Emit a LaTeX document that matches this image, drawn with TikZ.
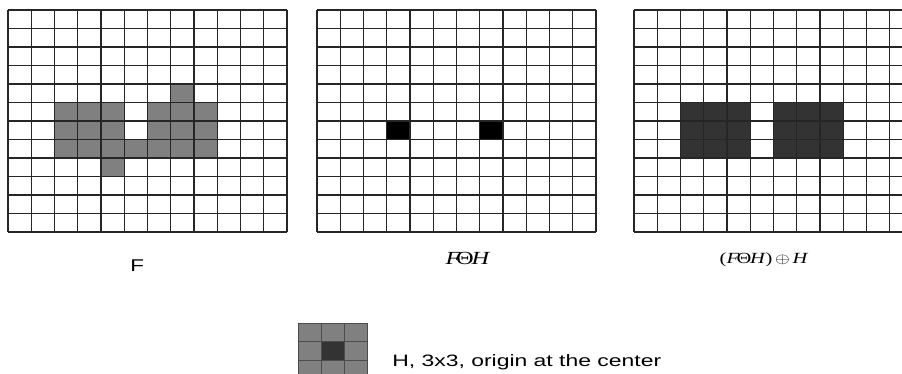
\documentclass[tikz,border=0pt]{standalone}
\usepackage{fontspec}
\setmainfont{Liberation Serif}
\newfontfamily\arialf{Liberation Sans}
\begin{document}
\begin{tikzpicture}[x=1pt,y=-1pt,
  gridline/.style={draw=black!85, line width=1.2pt},
  fcell/.style={fill=black!50},
  ecell/.style={fill=black},
  dcell/.style={fill=black!80},
  lab/.style={inner sep=0pt, xscale=1.32, transform shape}]
\useasboundingbox (0,0) rectangle (902,374);
\fill[white] (0,0) rectangle (902,374);
\clip (0,0) rectangle (902,374);
\def\cw{23.25}\def\ch{18.5}
% ---- grid 1 : F
\begin{scope}[shift={(8,10)}]
  \foreach \c/\r in {7/4,2/5,3/5,4/5,6/5,7/5,8/5,2/6,3/6,4/6,6/6,7/6,8/6,2/7,3/7,4/7,5/7,6/7,7/7,8/7,4/8}
    \fill[fcell] (\c*\cw,\r*\ch) rectangle ++(\cw,\ch);
  \foreach \i in {0,...,12} {
    \draw[gridline] (\i*\cw,0) -- (\i*\cw,12*\ch);
    \draw[gridline] (0,\i*\ch) -- (12*\cw,\i*\ch);
  }
\end{scope}
% ---- grid 2 : erosion
\begin{scope}[shift={(317,10)}]
  \foreach \c/\r in {3/6,7/6}
    \fill[ecell] (\c*\cw,\r*\ch) rectangle ++(\cw,\ch);
  \foreach \i in {0,...,12} {
    \draw[gridline] (\i*\cw,0) -- (\i*\cw,12*\ch);
    \draw[gridline] (0,\i*\ch) -- (12*\cw,\i*\ch);
  }
\end{scope}
% ---- grid 3 : opening
\begin{scope}[shift={(634,10)}]
  \foreach \c/\r in {2/5,3/5,4/5,6/5,7/5,8/5,2/6,3/6,4/6,6/6,7/6,8/6,2/7,3/7,4/7,6/7,7/7,8/7}
    \fill[dcell] (\c*\cw,\r*\ch) rectangle ++(\cw,\ch);
  \foreach \i in {0,...,12} {
    \draw[gridline] (\i*\cw,0) -- (\i*\cw,12*\ch);
    \draw[gridline] (0,\i*\ch) -- (12*\cw,\i*\ch);
  }
\end{scope}
% ---- structuring element H
\begin{scope}[shift={(298,323)}]
  \fill[fcell] (0,0) rectangle (3*\cw,3*\ch);
  \fill[dcell] (\cw,\ch) rectangle ++(\cw,\ch);
  \foreach \i in {0,...,3} {
    \draw[gridline, draw=black!70, line width=1pt] (\i*\cw,0) -- (\i*\cw,3*\ch);
    \draw[gridline, draw=black!70, line width=1pt] (0,\i*\ch) -- (3*\cw,\i*\ch);
  }
\end{scope}
% ---- labels
\node[lab, anchor=base west] (lF) at (130,271) {\arialf\fontsize{17}{19}\selectfont F};
\node[lab, anchor=base] (lE) at (468,264) {\fontsize{18.5}{20}\selectfont\textit{F}\kern-3.5pt Θ\kern-1.5pt\textit{H}};
\node[lab, anchor=base] (lO) at (764,263) {\fontsize{15.5}{18}\selectfont(\textit{F}\kern-2pt Θ\kern-1pt\textit{H})\kern2pt$\oplus$\kern2pt\textit{H}};
\node[lab, xscale=1.053, anchor=base west] (lH) at (392,366) {\arialf\fontsize{16.5}{18}\selectfont H, 3x3, origin at the center};
\end{tikzpicture}
\end{document}
